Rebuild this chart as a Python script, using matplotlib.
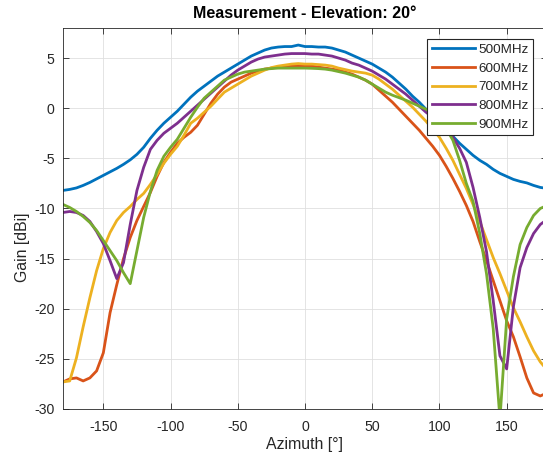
import matplotlib
matplotlib.use("Agg")
import matplotlib.pyplot as plt
import numpy as np

plt.rcParams['font.family'] = ['Liberation Sans', 'DejaVu Sans']
plt.rcParams['axes.unicode_minus'] = False

# ---------------- data ----------------
azimuth = list(range(-180, 181, 5))

gain_500 = [-8.2, -8.1, -7.95, -7.7, -7.4, -7.05, -6.7, -6.35, -6.0, -5.6,
            -5.15, -4.6, -3.9, -3.0, -2.2, -1.5, -0.9, -0.3, 0.4, 1.1,
            1.7, 2.2, 2.7, 3.2, 3.6, 4.0, 4.4, 4.8, 5.2, 5.5,
            5.8, 6.0, 6.1, 6.15, 6.15, 6.3, 6.15, 6.15, 6.1, 6.1,
            6.0, 5.8, 5.6, 5.3, 5.0, 4.7, 4.4, 4.0, 3.6, 3.1,
            2.5, 1.9, 1.2, 0.6, -0.1, -0.8, -1.4, -2.1, -2.8, -3.5,
            -4.1, -4.7, -5.2, -5.6, -6.1, -6.5, -6.8, -7.1, -7.3, -7.45,
            -7.7, -7.9, -8.0]

gain_600 = [-27.3, -27.0, -26.9, -27.2, -26.9, -26.2, -24.4, -20.4, -17.6, -15.0,
            -12.9, -11.2, -9.8, -8.4, -6.8, -5.4, -4.4, -3.5, -2.9, -2.4,
            -1.7, -0.6, 0.5, 1.4, 2.1, 2.6, 2.9, 3.2, 3.5, 3.7,
            3.9, 4.0, 4.1, 4.15, 4.2, 4.25, 4.2, 4.2, 4.1, 4.0,
            3.9, 3.8, 3.6, 3.4, 3.1, 2.8, 2.4, 1.8, 1.2, 0.6,
            -0.1, -0.8, -1.5, -2.2, -3.0, -3.8, -4.7, -5.8, -7.0, -8.3,
            -9.7, -11.3, -13.3, -15.2, -17.2, -19.2, -21.2, -22.8, -24.8, -26.9,
            -28.4, -28.7, -28.4]

gain_700 = [-27.3, -27.2, -24.9, -21.8, -18.9, -16.2, -14.0, -12.4, -11.2, -10.4,
            -9.8, -9.1, -8.5, -7.6, -6.6, -5.5, -4.6, -3.8, -2.7, -1.5,
            -1.0, -0.4, 0.2, 0.9, 1.6, 2.0, 2.4, 2.8, 3.2, 3.5,
            3.8, 4.05, 4.2, 4.3, 4.4, 4.45, 4.4, 4.4, 4.35, 4.3,
            4.2, 4.0, 3.85, 3.7, 3.6, 3.5, 3.3, 2.9, 2.4, 1.9,
            1.3, 0.7, 0.1, -0.6, -1.3, -2.1, -2.9, -4.0, -5.2, -6.6,
            -8.0, -9.6, -11.3, -13.1, -14.9, -16.5, -18.2, -19.9, -21.3, -22.8,
            -24.2, -25.3, -26.1]

gain_800 = [-10.4, -10.3, -10.4, -10.7, -11.3, -12.3, -13.5, -15.2, -17.0, -15.4,
            -11.6, -8.2, -5.9, -4.1, -3.2, -2.5, -2.0, -1.5, -0.9, -0.3,
            0.3, 0.9, 1.5, 2.1, 2.7, 3.3, 3.8, 4.2, 4.6, 4.9,
            5.1, 5.2, 5.3, 5.4, 5.45, 5.45, 5.45, 5.4, 5.4, 5.3,
            5.2, 5.0, 4.8, 4.5, 4.3, 4.0, 3.7, 3.3, 2.9, 2.4,
            1.9, 1.4, 0.8, 0.2, -0.4, -0.9, -1.6, -2.1, -2.9, -4.0,
            -5.4, -7.9, -10.9, -14.3, -19.2, -24.7, -26.0, -19.8, -15.9, -13.9,
            -12.5, -11.6, -11.1]

gain_900 = [-9.6, -9.9, -10.3, -10.8, -11.4, -12.2, -13.2, -14.2, -15.2, -16.4,
            -17.5, -14.2, -10.9, -8.3, -6.2, -4.8, -3.9, -3.1, -2.0, -0.9,
            0.1, 1.0, 1.6, 2.2, 2.8, 3.1, 3.4, 3.6, 3.7, 3.8,
            3.9, 3.95, 4.0, 4.0, 4.0, 4.0, 4.0, 3.98, 3.95, 3.9,
            3.8, 3.65, 3.5, 3.3, 3.1, 2.8, 2.4, 2.0, 1.6, 1.3,
            1.05, 0.8, 0.5, 0.2, -0.1, -0.5, -1.2, -2.0, -3.2, -5.2,
            -7.5, -9.3, -12.5, -16.5, -22.0, -31.0, -21.0, -16.8, -13.6, -11.9,
            -10.7, -10.0, -9.7]

series = [("500MHz", gain_500), ("600MHz", gain_600), ("700MHz", gain_700),
          ("800MHz", gain_800), ("900MHz", gain_900)]
colors = ["#0072BD", "#D95319", "#EDB120", "#7E2F8E", "#77AC30"]

x_ticks = [-150, -100, -50, 0, 50, 100, 150]
y_ticks = [-30, -25, -20, -15, -10, -5, 0, 5]

# ---------------- figure ----------------
W, H = 543, 461
fig = plt.figure(figsize=(W / 100, H / 100), dpi=100)
ax = fig.add_axes([63 / W, 1 - 409 / H, (547 - 63) / W, (409 - 28) / H])

for (name, vals), c in zip(series, colors):
    ax.plot(azimuth, vals, color=c, linewidth=2.0, label=name)

ax.set_xlim(-180, 180)
ax.set_ylim(-30, 8)
ax.set_xticks(x_ticks)
ax.set_yticks(y_ticks)

ax.grid(True, color="#DFDFDF", linewidth=0.6)
ax.set_axisbelow(True)
for s in ax.spines.values():
    s.set_color("#262626")
    s.set_linewidth(0.6)
ax.tick_params(direction="in", top=True, right=True, length=4, width=0.6,
               colors="#262626", labelsize=10.2, pad=6)
ax.tick_params(axis="x", pad=8)

ax.set_xlabel("Azimuth [°]", fontsize=11.4, color="#262626")
ax.set_ylabel("Gain [dBi]", fontsize=11.4, color="#262626")
ax.xaxis.set_label_coords(0.5, (409 - 437) / 381)
ax.yaxis.set_label_coords((30 - 63) / 484, (409 - 247) / 381)
ax.set_title("Measurement - Elevation: 20°", fontsize=11.5, fontweight="bold",
             color="black", pad=7)

leg = ax.legend(loc="upper right", bbox_to_anchor=(533 / W, 1 - 39 / H),
                bbox_transform=fig.transFigure, borderaxespad=0,
                fontsize=9.7, handlelength=3.2, handletextpad=0.25,
                labelspacing=0.46, borderpad=0.35, fancybox=False,
                framealpha=1, edgecolor="#262626")
leg.get_frame().set_linewidth(0.8)
for t in leg.get_texts():
    t.set_color("#262626")

fig.savefig("out.png", dpi=100)
